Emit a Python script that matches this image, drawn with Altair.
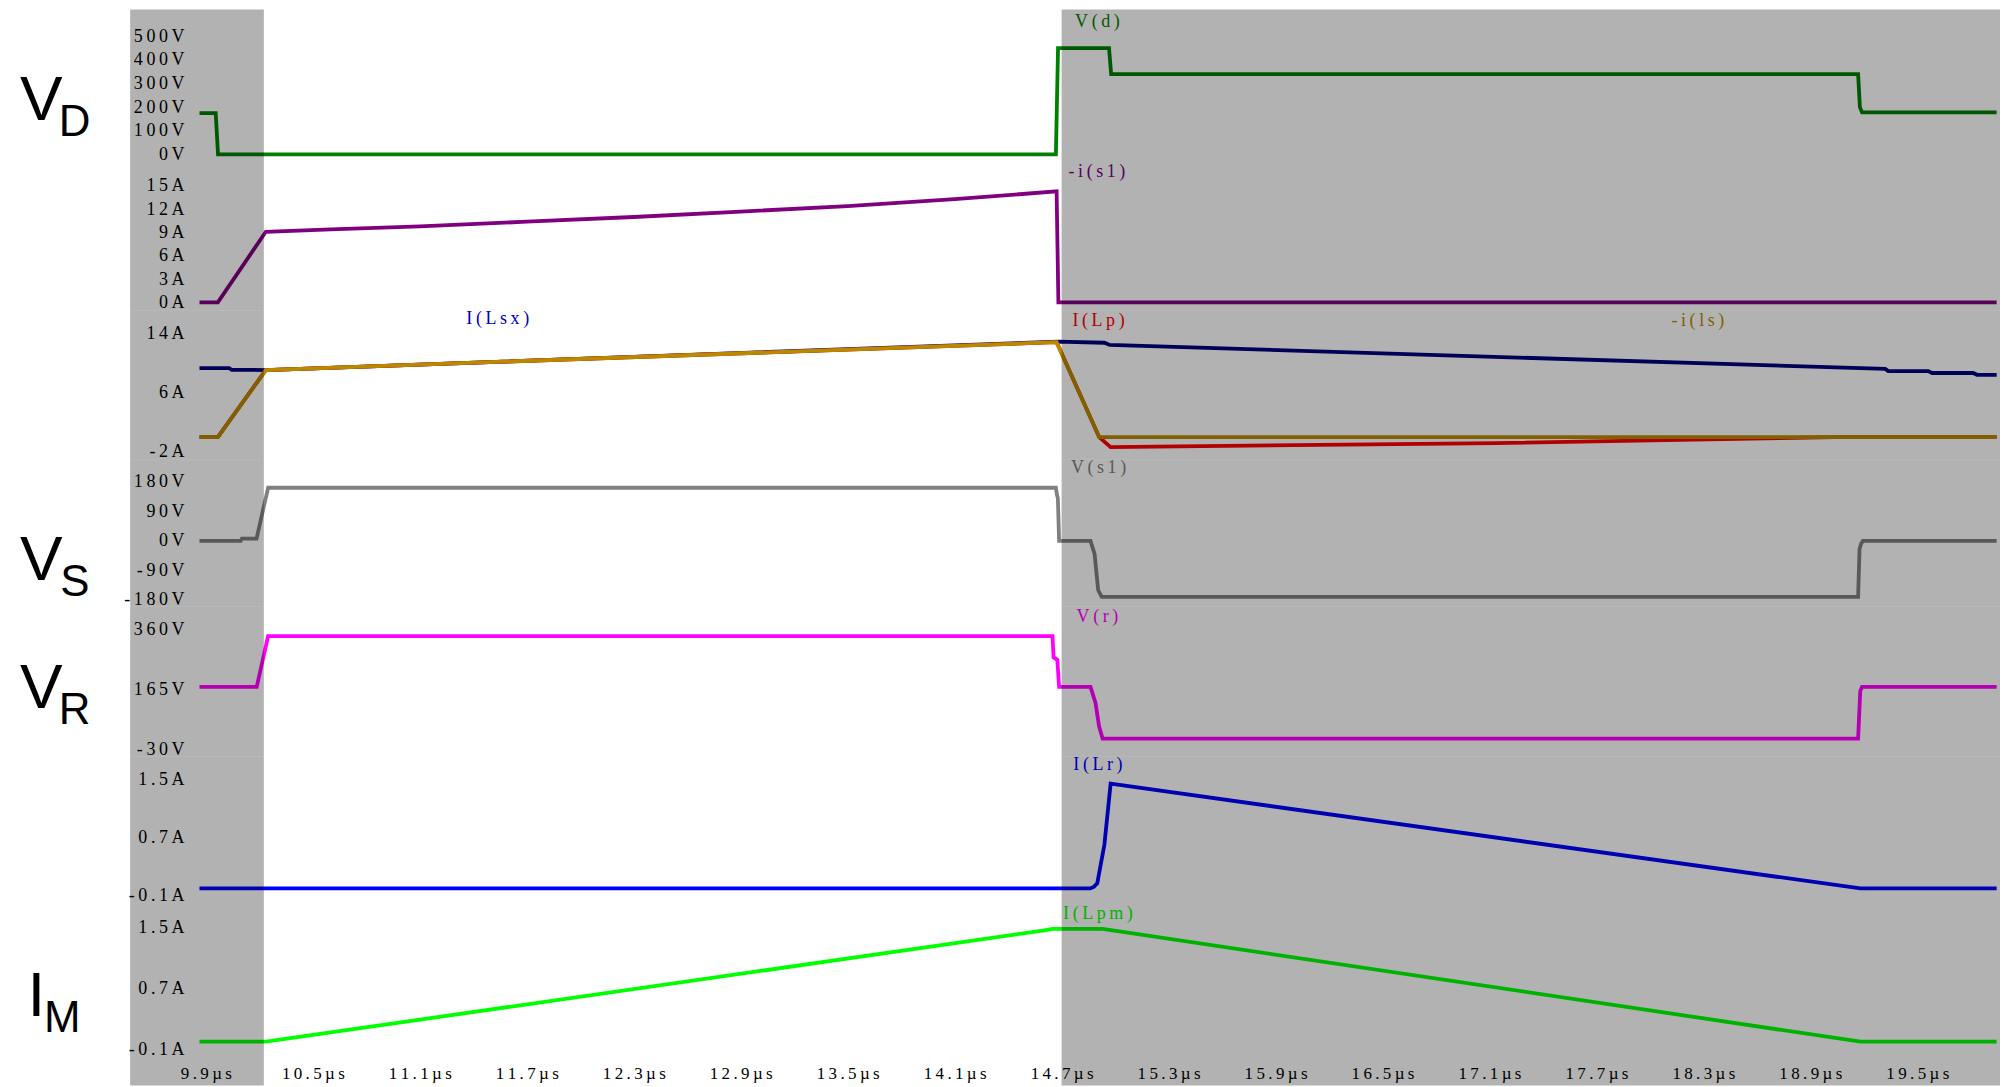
import altair as alt
import pandas as pd

# ---------------- time axis (microseconds) ----------------
X_MIN, X_MAX = 9.475, 19.964
X_TICKS = [9.9, 10.5, 11.1, 11.7, 12.3, 12.9, 13.5, 14.1, 14.7,
           15.3, 15.9, 16.5, 17.1, 17.7, 18.3, 18.9, 19.5]

# switching intervals drawn shaded
SHADE_START = [X_MIN, 14.7]
SHADE_END = [10.225, X_MAX]

# ---------------- waveforms ----------------
VD_T = [9.864, 9.955, 9.968, 14.668, 14.68, 14.966, 14.978, 19.168, 19.178, 19.19, 19.945]
VD_V = [175, 175, 0, 0, 450, 450, 340, 340, 200, 178, 178]

IS1_T = [9.864, 9.967, 10.236, 10.6, 11.1, 11.7, 12.3, 12.9, 13.5, 14.1, 14.672, 14.682, 19.945]
IS1_V = [0, 0, 9.1, 9.4, 9.8, 10.4, 11.0, 11.7, 12.4, 13.3, 14.3, 0, 0]

ILSX_T = [9.864, 10.03, 10.045, 10.236, 14.68, 14.94, 14.97, 19.32, 19.337,
          19.561, 19.583, 19.813, 19.835, 19.945]
ILSX_V = [9.35, 9.35, 9.13, 9.1, 12.95, 12.8, 12.5, 9.25, 8.95, 8.95, 8.7, 8.7, 8.45, 8.45]

ILP_T = [9.864, 9.967, 10.236, 14.672, 14.911, 14.975, 17.14, 19.04, 19.945]
ILP_V = [0, 0, 9.1, 12.87, 0, -1.35, -0.8, 0, 0]

ILS_T = [9.864, 9.967, 10.236, 14.672, 14.911, 19.945]
ILS_V = [0, 0, 9.1, 12.87, 0, 0]

VS1_T = [9.864, 10.095, 10.102, 10.184, 10.249, 14.668, 14.674, 14.679, 14.686,
         14.862, 14.885, 14.905, 14.925, 19.168, 19.176, 19.184, 19.195, 19.945]
VS1_V = [0, 0, 7, 7, 162, 162, 140, 130, 0, 0, -40, -150, -171, -171, -25, -10, 0, 0]

VR_T = [9.864, 10.185, 10.249, 14.649, 14.655, 14.676, 14.686, 14.862, 14.89,
        14.91, 14.93, 19.168, 19.18, 19.19, 19.945]
VR_V = [174, 174, 339, 339, 270, 262, 174, 174, 122, 46, 5, 5, 160, 174, 174]

ILR_T = [9.864, 14.86, 14.88, 14.9, 14.94, 14.975, 19.181, 19.945]
ILR_V = [0, 0, 0.02, 0.07, 0.6, 1.44, 0, 0]

ILPM_T = [9.864, 10.236, 14.594, 14.649, 14.93, 19.181, 19.945]
ILPM_V = [0, 0, 1.456, 1.478, 1.478, 0, 0]

# ---------------- styling ----------------
THIN = "\u2009"
SERIF = "Liberation Serif"
SANS = "Liberation Sans"
W = 1875
LINE_W = 3.8
TICK_FS = 18
NOTE_FS = 18
XTICK_FS = 17

x_scale = alt.Scale(domain=[X_MIN, X_MAX], nice=False, zero=False)


def spaced(s):
    return THIN.join(s)


def trace_df(t, v):
    return pd.DataFrame({"t": t, "v": v})


shade_df = pd.DataFrame({"t0": SHADE_START, "t1": SHADE_END})


def panel(top, bottom, tick_hi, tick_lo, ticks, unit, traces, notes, big=None, x_axis=False):
    """One strip of the waveform stack.

    tick_hi / tick_lo: (value, canvas y) of the outermost tick labels.
    """
    H = bottom - top
    (v_hi, p_hi), (v_lo, p_lo) = tick_hi, tick_lo
    per_px = (v_hi - v_lo) / (p_lo - p_hi)
    dom = [v_lo - (bottom - p_lo) * per_px, v_hi + (p_hi - top) * per_px]

    y_axis = alt.Axis(
        values=ticks, orient="left", offset=-54, ticks=False, domain=False, grid=False,
        labelPadding=0, labelFont=SERIF, labelFontSize=TICK_FS, labelColor="black",
        labelAlign="right", labelBaseline="middle", labelOverlap=False, labelFlush=False,
        labelExpr=f"join(split(toString(datum.value) + '{unit}', ''), '{THIN}')",
        title=None,
    )
    if x_axis:
        xa = alt.Axis(
            values=X_TICKS, orient="bottom", offset=-12, ticks=False, domain=False, grid=False,
            labelPadding=0, labelFont=SERIF, labelFontSize=XTICK_FS, labelColor="black",
            labelBaseline="middle", labelOverlap=False, labelFlush=False,
            labelExpr=f"join(split(format(datum.value, '.1f') + '\u00b5s', ''), '{THIN}')",
            title=None,
        )
    else:
        xa = None

    x_enc = alt.X("t:Q", scale=x_scale, axis=xa)
    y_enc = alt.Y("v:Q", scale=alt.Scale(domain=dom, nice=False, zero=False), axis=y_axis)

    layers = []
    for (t, v, color) in traces:
        layers.append(
            alt.Chart(trace_df(t, v)).mark_line(color=color, strokeWidth=LINE_W)
            .encode(x=x_enc, y=y_enc)
        )
    for (text, t, py, color) in notes:
        layers.append(
            alt.Chart(pd.DataFrame({"t": [t], "s": [spaced(text)]}))
            .mark_text(font=SERIF, fontSize=NOTE_FS, color=color, align="center", baseline="middle")
            .encode(x=x_enc, y=alt.value(py - top), text="s:N")
        )
    if big:
        main, sub, main_x, sub_x, base = big
        layers.append(
            alt.Chart(pd.DataFrame({"s": [main]}))
            .mark_text(font=SANS, fontSize=64, color="black", align="left", baseline="alphabetic")
            .encode(x=alt.value(main_x), y=alt.value(base - top), text="s:N")
        )
        layers.append(
            alt.Chart(pd.DataFrame({"s": [sub]}))
            .mark_text(font=SANS, fontSize=44, color="black", align="left", baseline="alphabetic")
            .encode(x=alt.value(sub_x), y=alt.value(base + 16 - top), text="s:N")
        )
    # shaded switching intervals, laid over the traces
    layers.append(
        alt.Chart(shade_df).mark_rect(color="black", opacity=0.3)
        .encode(x=alt.X("t0:Q", scale=x_scale, axis=xa), x2="t1:Q",
                y=alt.value(0), y2=alt.value(H))
    )
    return alt.layer(*layers).properties(width=W, height=H)


p1 = panel(8, 162, (500, 35), (0, 153.3), [0, 100, 200, 300, 400, 500], "V",
           [(VD_T, VD_V, "#008000")],
           [("V(d)", 14.901, 21, "#008000")],
           big=("V", "D", -110.5, -71.5, 119))
p2 = panel(162, 310, (15, 185), (0, 301.7), [0, 3, 6, 9, 12, 15], "A",
           [(IS1_T, IS1_V, "#800080")],
           [("-i(s1)", 14.898, 171, "#800080")])
p3 = panel(310, 459, (14, 333.3), (-2, 451.7), [-2, 6, 14], "A",
           [(ILSX_T, ILSX_V, "#000080"), (ILP_T, ILP_V, "#FF0000"), (ILS_T, ILS_V, "#B88A00")],
           [("I(Lsx)", 11.537, 318, "#0000C0"), ("I(Lp)", 14.907, 320, "#FF0000"),
            ("-i(ls)", 18.269, 320, "#B88A00")])
p4 = panel(459, 607, (180, 481.7), (-180, 600), [-180, -90, 0, 90, 180], "V",
           [(VS1_T, VS1_V, "#808080")],
           [("V(s1)", 14.907, 468, "#808080")],
           big=("V", "S", -110.5, -70, 580))
p5 = panel(607, 757, (360, 630), (-30, 750), [-30, 165, 360], "V",
           [(VR_T, VR_V, "#FF00FF")],
           [("V(r)", 14.901, 617, "#FF00FF")],
           big=("V", "R", -110.5, -71.5, 708))
p6 = panel(757, 905, (1.5, 780), (-0.1, 896.7), [-0.1, 0.7, 1.5], "A",
           [(ILR_T, ILR_V, "#0000FF")],
           [("I(Lr)", 14.904, 766, "#0000FF")])
p7 = panel(905, 1087, (1.5, 928.3), (-0.1, 1050.7), [-0.1, 0.7, 1.5], "A",
           [(ILPM_T, ILPM_V, "#00FF00")],
           [("I(Lpm)", 14.904, 915, "#00FF00")],
           big=("I", "M", -103, -86.3, 1017), x_axis=True)

chart = (
    alt.vconcat(p1, p2, p3, p4, p5, p6, p7, spacing=0, bounds="flush")
    .resolve_scale(x="independent", y="independent")
    .properties(background="white", padding={"left": 19.5, "top": 8, "right": 0, "bottom": 0})
    .configure_view(stroke=None)
)

chart.save("out.html", embed_options={"renderer": "svg", "actions": False})
